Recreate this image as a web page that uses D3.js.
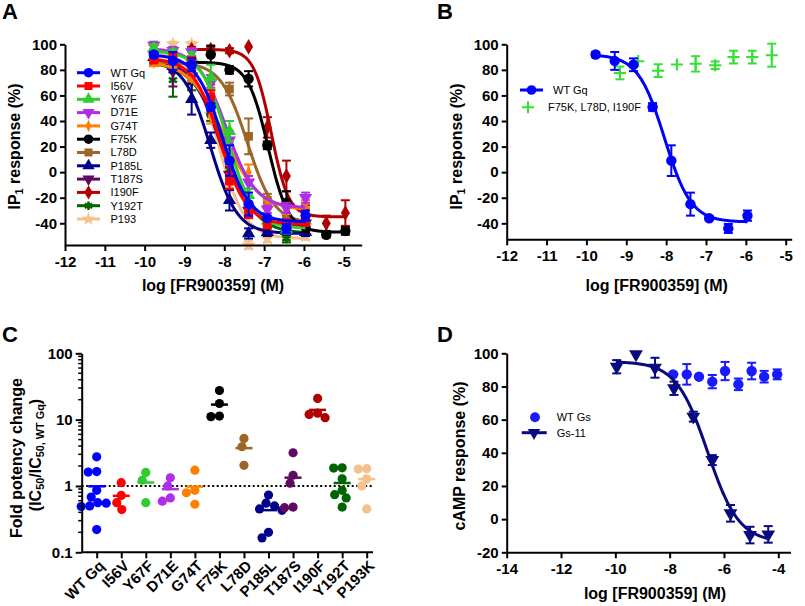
<!DOCTYPE html>
<html><head><meta charset="utf-8">
<script src="https://cdn.jsdelivr.net/npm/d3@7"></script>
<style>body{margin:0;background:#fff}</style>
</head><body><svg id="c" width="805" height="606" style="background:#fff"></svg>
<script>
// ---------------- DATA ----------------
// Panel A: log concentrations
const xA = [-9.77,-9.29,-8.82,-8.34,-7.87,-7.39,-6.92,-6.44,-5.96];
const xA2 = [-8.82,-8.34,-7.87,-7.39,-6.92,-6.44,-5.96,-5.44,-4.96];
const namesA = ["WT Gq","I56V","Y67F","D71E","G74T","F75K","L78D","P185L","T187S","I190F","Y192T","P193"];
// values (mean %) and SEM per series
const yWT   = [92,87,84,51,9,-25,-36,-44,-34];      const eWT   = [2,7,5,3,12,9,1.5,3.5,4];
const yI56V = [88,89,86,59,-7,-31,-41,-40,-39];     const eI56V = [3,4,4,5,6,5,3,3,3];
const yY67F = [97,93,90,74,32,-18,-38,-45,-38];     const eY67F = [3,3,4,10,8,5,3,3,3];
const yD71E = [99,95,94,70,25,-8,-29,-28,-20];      const eD71E = [3,3,3,6,7,5,3,4,4];
const yG74T = [86,85,74,44,22,0,-25,-30,-25];       const eG74T = [3,3,3,6,8,6,3,3,3];
const yF75K = [86,92,80,73,21,-24,-43,-49,-46];     const eF75K = [3,7,3,6,3,9,4,2,3];
const yL78D = [86,85,84,71,65,28,-22,-36,-40];      const eL78D = [3,3,3,5,5,14,5,3,3];
const yP185L= [90,83,57,25,-22,-48,-47,-46,-47];    const eP185L= [3,5,12,6,8,4,3,3,3];
const yT187S= [92,79,75,50,-2,-30,-38,-40,-40];     const eT187S= [3,12,5,5,6,5,3,3,3];
const yI190F= [96,96,95,98,35,-3,-30,-40,-32];      const eI190F= [2,2,2,0,8,12,4,6,10];
const yY192T= [86,72,70,45,2,-30,-45,-52,-46];      const eY192T= [3,13,6,5,4,5,3,3,3];
const yP193 = [98,100,100,45,-10,-57,-52,-50,-50];  const eP193 = [2,2,2,5,5,3,3,3,3];
// fitted 4PL parameters: [top, bottom, logIC50, hill]
const fWT=[92,-39,-8.04,1.3], fI56V=[89,-41,-8.1,1.3], fY67F=[95,-44,-7.92,1.3], fD71E=[97,-28,-7.95,1.2],
      fG74T=[87,-30,-8.0,1.0], fF75K=[86,-47,-6.9,1.7], fL78D=[86,-40,-7.42,1.3], fP185L=[88,-48,-8.35,1.3],
      fT187S=[88,-42,-8.1,1.2], fI190F=[96,-35,-6.82,2.0], fY192T=[86,-48,-8.0,1.1], fP193=[95,-52,-8.15,1.3];

// Panel B
const xB2 = [-9.16,-8.70,-8.20,-7.73,-7.26,-6.77,-6.31,-5.84,-5.35];
const yB2 = [77.6,86.8,79.4,84.2,84.7,83.6,90,90,91.5];
const eB2 = [5,0,5,0,6,3,5,5,9];

// Panel C: fold potency change
const catsC = ["WT Gq","I56V","Y67F","D71E","G74T","F75K","L78D","P185L","T187S","I190F","Y192T","P193K"];
const cWT   = [2.75,1.65,1.62,0.86,0.68,0.56,0.55,0.50,0.49,0.22];
const cI56V = [1.12,0.72,0.56,0.44];
const cY67F = [1.6,1.22,0.56];
const cD71E = [1.33,1.0,0.66,0.59];
const cG74T = [1.73,0.86,0.79,0.53];
const cF75K = [27.5,17.5,11.1,11.3];
const cL78D = [5.2,3.9,2.05];
const cP185L= [0.73,0.55,0.50,0.45,0.43,0.20,0.165];
const cT187S= [3.17,1.45,1.1,0.47,0.48];
const cI190F= [20.9,12.5,12.0,10.7];
const cY192T= [1.88,1.86,1.28,0.86,0.74,0.66,0.48];
const cP193K= [1.82,1.80,1.28,1.0,0.45];

// Panel D
const xD1 = [-9.95,-9.24,-8.54,-7.84,-7.13,-6.43,-5.76,-5.04,-4.37];
const yD1 = [91.9,99.4,91.3,78.9,61.8,35.6,3.5,-9.6,-9.2];
const eD1 = [4,0,6,4,3,3,5,5,5];
const fD1 = [95,-14,-6.6,0.75];
const xD2 = [-7.87,-7.37,-6.92,-6.43,-5.96,-5.47,-4.98,-4.52,-4.04];
const yD2 = [87.3,87.3,85.9,82.9,89.3,81.3,89.3,85.9,87.3];
const eD2 = [0,6.2,0,4,5.5,3.5,5,3.5,3];

// tick labels
const ticksAx = [-12,-11,-10,-9,-8,-7,-6,-5];
const ticksAy = [-40,-20,0,20,40,60,80,100];
const ticksCy = [0.1,1,10,100];
const ticksDx = [-14,-12,-10,-8,-6,-4];
const ticksDy = [-20,0,20,40,60,80,100];

// ---------------- STYLE ----------------
const FONT = '"Liberation Sans", Arial, Helvetica, sans-serif';
const colA = ["#0000ff","#ff0000","#2ecc2e","#b02ee6","#ff8000","#000000","#9c6628","#00008b","#5e0a5e","#b00000","#006400","#f4c08c"];
const symA = ["circle","square","tri","trid","diam","circle","square","tri","trid","diamond","aster","star"];
const svg = d3.select("#c");

const Xs = [xA,xA,xA,xA,xA,xA2,xA,xA,xA,xA2,xA,xA];
const Ys = [yWT,yI56V,yY67F,yD71E,yG74T,yF75K,yL78D,yP185L,yT187S,yI190F,yY192T,yP193];
const Es = [eWT,eI56V,eY67F,eD71E,eG74T,eF75K,eL78D,eP185L,eT187S,eI190F,eY192T,eP193];
const Fs = [fWT,fI56V,fY67F,fD71E,fG74T,fF75K,fL78D,fP185L,fT187S,fI190F,fY192T,fP193];
const Cs = [cWT,cI56V,cY67F,cD71E,cG74T,cF75K,cL78D,cP185L,cT187S,cI190F,cY192T,cP193K];

function sig(p,x){return p[1]+(p[0]-p[1])/(1+Math.pow(10,(x-p[2])*p[3]));}

function marker(g,type,x,y,color,s){
  s = s||1;
  let path, rot=0, fill=color, stroke="none", sw=0, sc="";
  if(type==="circle") path=d3.symbol(d3.symbolCircle,85*s)();
  else if(type==="square") path=d3.symbol(d3.symbolSquare,75*s)();
  else if(type==="tri") path=d3.symbol(d3.symbolTriangle,75*s)();
  else if(type==="trid"){path=d3.symbol(d3.symbolTriangle,75*s)(); rot=180;}
  else if(type==="diam"){path=d3.symbol(d3.symbolDiamond,55*s)(); sc=" scale(0.75,1)";}
  else if(type==="diamond") path=d3.symbol(d3.symbolDiamond,70*s)();
  else if(type==="star") path=d3.symbol(d3.symbolStar,70*s)();
  else if(type==="aster"){path=d3.symbol(d3.symbolAsterisk,60*s)(); fill="none"; stroke=color; sw=2.5;}
  else if(type==="plus"){path=d3.symbol(d3.symbolPlus,50*s)(); fill="none"; stroke=color; sw=2;}
  g.append("path").attr("d",path).attr("transform",`translate(${x},${y}) rotate(${rot})${sc}`)
    .attr("fill",fill).attr("stroke",stroke).attr("stroke-width",sw);
}
function errbar(g,x,y0,y1,color,cap){
  g.append("line").attr("x1",x).attr("x2",x).attr("y1",y0).attr("y2",y1).attr("stroke",color).attr("stroke-width",2);
  [y0,y1].forEach(yy=>g.append("line").attr("x1",x-cap).attr("x2",x+cap).attr("y1",yy).attr("y2",yy).attr("stroke",color).attr("stroke-width",2));
}
function styleAxis(g){
  g.selectAll("path,line").attr("stroke","#000").attr("stroke-width",2);
  g.selectAll("text").attr("font-family",FONT).attr("font-weight","bold").attr("font-size",15).attr("fill","#000");
}
function txt(x,y,s,size,weight,anchor){
  return svg.append("text").attr("x",x).attr("y",y).text(s).attr("font-family",FONT)
    .attr("font-size",size).attr("font-weight",weight||"bold").attr("text-anchor",anchor||"start").attr("fill","#000");
}
function curve(g,sx,sy,p,x0,x1,color,w){
  const pts = d3.range(0,201).map(i=>{const x=x0+(x1-x0)*i/200; return [sx(x),sy(sig(p,x))];});
  g.append("path").attr("d",d3.line()(pts)).attr("fill","none").attr("stroke",color).attr("stroke-width",w);
}
function ytitle(x,y,parts,size){
  const t = svg.append("text").attr("transform",`translate(${x},${y}) rotate(-90)`).attr("text-anchor","middle")
    .attr("font-family",FONT).attr("font-weight","bold").attr("font-size",size).attr("fill","#000");
  parts.forEach(p=>{
    const ts = t.append("tspan").text(p[0]);
    if(p[1]==="sub") ts.attr("font-size",size*0.68).attr("baseline-shift","-25%");
  });
  return t;
}

// ---------------- PANEL A ----------------
const sxA = d3.scaleLinear().domain([-12,-4.55]).range([65,361.7]);
const syA = d3.scaleLinear().domain([-57,100]).range([245,44.3]);
const gA = svg.append("g");
for(let k=namesA.length-1;k>=0;k--){
  const xs=Xs[k], ys=Ys[k], es=Es[k], c=colA[k];
  curve(gA,sxA,syA,Fs[k],d3.min(xs),d3.max(xs),c,3);
  xs.forEach((x,i)=>{ if(es[i]>0) errbar(gA,sxA(x),syA(ys[i]-es[i]),syA(ys[i]+es[i]),c,4.5); });
  xs.forEach((x,i)=>marker(gA,symA[k],sxA(x),syA(ys[i]),c));
}
svg.append("g").attr("transform","translate(0,245)")
  .call(d3.axisBottom(sxA).tickValues(ticksAx).tickSize(6).tickPadding(5).tickSizeOuter(0).tickFormat(d=>String(d))).call(styleAxis);
svg.append("g").attr("transform","translate(65,0)")
  .call(d3.axisLeft(syA).tickValues(ticksAy).tickSize(5).tickPadding(3).tickSizeOuter(0).tickFormat(d=>String(d))).call(styleAxis);
// legend A
namesA.forEach((n,k)=>{
  const y = 72.7 + k*13.3;
  svg.append("line").attr("x1",77).attr("x2",100).attr("y1",y).attr("y2",y).attr("stroke",colA[k]).attr("stroke-width",3);
  marker(svg,symA[k],88.5,y,colA[k],0.85);
  txt(110.5,y+3.8,n,11,"normal");
});
txt(213,291,"log [FR900359] (M)",16,"bold","middle");
ytitle(19.5,146.5,[["IP"],["1","sub"],[" response (%)"]],16);
txt(2,19,"A",22,"bold");

// ---------------- PANEL B ----------------
const sxB = d3.scaleLinear().domain([-12,-4.85]).range([506.7,791.7]);
const syB = d3.scaleLinear().domain([-52.5,100]).range([239.3,44.3]);
const gB = svg.append("g");
xB2.forEach((x,i)=>{ if(eB2[i]>0) errbar(gB,sxB(x),syB(yB2[i]-eB2[i]),syB(yB2[i]+eB2[i]),"#33e033",4.5); });
xB2.forEach((x,i)=>marker(gB,"plus",sxB(x),syB(yB2[i]),"#33e033"));
curve(gB,sxB,syB,fWT,d3.min(xA),d3.max(xA),"#0000ff",3);
xA.forEach((x,i)=>{ if(eWT[i]>0) errbar(gB,sxB(x),syB(yWT[i]-eWT[i]),syB(yWT[i]+eWT[i]),"#0000ff",4.5); });
xA.forEach((x,i)=>marker(gB,"circle",sxB(x),syB(yWT[i]),"#0000ff"));
svg.append("g").attr("transform","translate(0,239.3)")
  .call(d3.axisBottom(sxB).tickValues(ticksAx).tickSize(6).tickPadding(5).tickSizeOuter(0).tickFormat(d=>String(d))).call(styleAxis);
svg.append("g").attr("transform","translate(506.7,0)")
  .call(d3.axisLeft(syB).tickValues(ticksAy).tickSize(5).tickPadding(3).tickSizeOuter(0).tickFormat(d=>String(d))).call(styleAxis);
svg.append("line").attr("x1",520).attr("x2",543).attr("y1",90).attr("y2",90).attr("stroke","#0000ff").attr("stroke-width",3);
marker(svg,"circle",531.5,90,"#0000ff",0.85);
txt(553,93.8,"WT Gq",11,"normal");
marker(svg,"plus",528,107.3,"#33e033");
txt(548,111.1,"F75K, L78D, I190F",11,"normal");
txt(656.7,291,"log [FR900359] (M)",16,"bold","middle");
ytitle(461.5,146.5,[["IP"],["1","sub"],[" response (%)"]],16);
txt(437,19,"B",22,"bold");

// ---------------- PANEL C ----------------
const sxC = d3.scalePoint().domain(catsC).range([96.7,366.7]);
const syC = d3.scaleLog().domain([0.1,100]).range([552.3,353.3]);
const gC = svg.append("g");
// dotted reference line at 1
gC.append("line").attr("x1",81.7).attr("x2",373).attr("y1",syC(1)).attr("y2",syC(1))
  .attr("stroke","#000").attr("stroke-width",2).attr("stroke-dasharray","2,2.5");
catsC.forEach((cat,k)=>{
  const c = colA[k], cx = sxC(cat), r = 4.6;
  const vals = Cs[k].slice().sort((a,b)=>b-a);
  const placed = [];
  vals.forEach(v=>{
    const y = syC(v);
    let best = 0;
    for(let d=0; d<30; d+=0.5){
      let found=false;
      for(const s of (d===0?[0]:[-d,d])){
        const ok = placed.every(p=>Math.hypot(p[0]-(cx+s),p[1]-y) >= 2*r*0.92);
        if(ok){best=s;found=true;break;}
      }
      if(found) break;
    }
    placed.push([cx+best,y]);
  });
  placed.forEach(p=>gC.append("circle").attr("cx",p[0]).attr("cy",p[1]).attr("r",r).attr("fill",c));
  const m = d3.mean(Cs[k]);
  gC.append("line").attr("x1",cx-8.5).attr("x2",cx+8.5).attr("y1",syC(m)).attr("y2",syC(m)).attr("stroke",c).attr("stroke-width",2.5);
});
const axCx = svg.append("g").attr("transform","translate(0,552.3)")
  .call(d3.axisBottom(sxC).tickSize(6).tickSizeOuter(0).tickFormat(""));
axCx.select(".domain").remove();
axCx.append("line").attr("x1",81.7).attr("x2",373).attr("y1",0).attr("y2",0);
styleAxis(axCx);
catsC.forEach(cat=>{
  svg.append("text").attr("transform",`translate(${sxC(cat)+5},${563}) rotate(-45)`).attr("text-anchor","end")
    .attr("dy","0.35em").text(cat).attr("font-family",FONT).attr("font-weight","bold").attr("font-size",15).attr("fill","#000");
});
const axCy = svg.append("g").attr("transform","translate(81.7,0)")
  .call(d3.axisLeft(syC).tickValues(ticksCy).tickSize(6).tickPadding(3).tickSizeOuter(0).tickFormat(d=>String(d)));
styleAxis(axCy);
const minor = [];
[0.1,1,10].forEach(b=>d3.range(2,10).forEach(m=>minor.push(b*m)));
minor.forEach(v=>svg.append("line").attr("x1",81.7-3.5).attr("x2",81.7).attr("y1",syC(v)).attr("y2",syC(v)).attr("stroke","#000").attr("stroke-width",1.5));
ytitle(21.5,458,[["Fold potency change"]],16);
ytitle(40.5,455,[["(IC"],["50","sub"],["/IC"],["50, WT Gq","sub"],[")"]],16);
txt(2,342,"C",22,"bold");

// ---------------- PANEL D ----------------
const sxD = d3.scaleLinear().domain([-14,-3.55]).range([506.7,790.5]);
const syD = d3.scaleLinear().domain([-20,100]).range([552.3,353.3]);
const gD = svg.append("g");
const cGs = "#1a1aff", cGs11 = "#0a0a80";
xD2.forEach((x,i)=>{ if(eD2[i]>0) errbar(gD,sxD(x),syD(yD2[i]-eD2[i]),syD(yD2[i]+eD2[i]),cGs,4.5); });
xD2.forEach((x,i)=>marker(gD,"circle",sxD(x),syD(yD2[i]),cGs));
curve(gD,sxD,syD,fD1,d3.min(xD1),d3.max(xD1),cGs11,3);
xD1.forEach((x,i)=>{ if(eD1[i]>0) errbar(gD,sxD(x),syD(yD1[i]-eD1[i]),syD(yD1[i]+eD1[i]),cGs11,4.5); });
xD1.forEach((x,i)=>marker(gD,"trid",sxD(x),syD(yD1[i]),cGs11,1.1));
svg.append("g").attr("transform","translate(0,552.3)")
  .call(d3.axisBottom(sxD).tickValues(ticksDx).tickSize(6).tickPadding(5).tickSizeOuter(0).tickFormat(d=>String(d))).call(styleAxis);
svg.append("g").attr("transform","translate(506.7,0)")
  .call(d3.axisLeft(syD).tickValues(ticksDy).tickSize(5).tickPadding(3).tickSizeOuter(0).tickFormat(d=>String(d))).call(styleAxis);
marker(svg,"circle",535,417.3,cGs,0.9);
txt(556.7,421,"WT Gs",11,"normal");
svg.append("line").attr("x1",521.7).attr("x2",546.7).attr("y1",432.7).attr("y2",432.7).attr("stroke",cGs11).attr("stroke-width",3);
marker(svg,"trid",534,432.7,cGs11,0.9);
txt(556.7,436.5,"Gs-11",11,"normal");
txt(655,599,"log [FR900359] (M)",16,"bold","middle");
ytitle(464.5,456,[["cAMP response (%)"]],16);
txt(437,342,"D",22,"bold");
</script></body></html>
